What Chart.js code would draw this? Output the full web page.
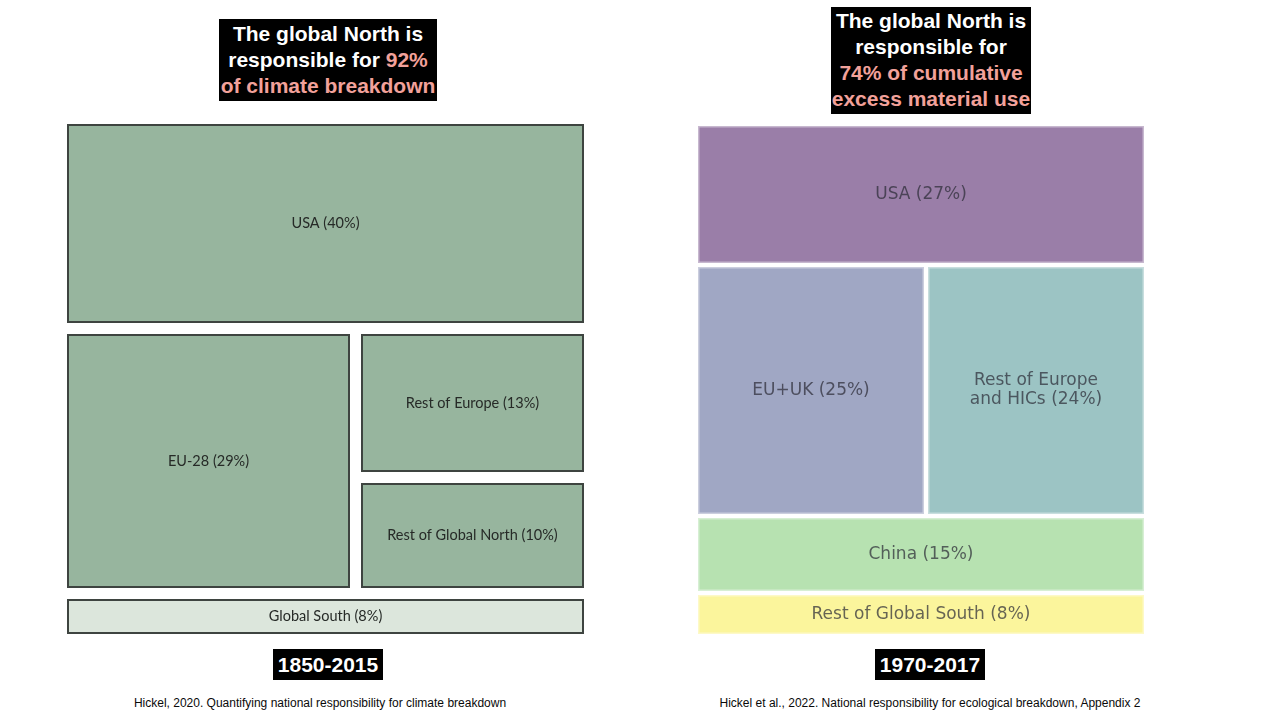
<!DOCTYPE html>
<html>
<head>
<meta charset="utf-8">
<script src="https://cdn.jsdelivr.net/npm/chart.js@4/dist/chart.umd.min.js"></script>
<style>
  html, body { margin: 0; padding: 0; background: #ffffff; }
  body { width: 1280px; height: 720px; position: relative; overflow: hidden; font-family: "Liberation Sans", Arial, sans-serif; }
  .box { position: absolute; background: #000; color: #fff; font-weight: bold; font-size: 21px; line-height: 26px; text-align: center; box-sizing: border-box; }
  .pink { color: #f2a19a; }
  .cap { position: absolute; font-size: 12px; color: #0a0a0a; text-align: center; white-space: nowrap; }
  .chartwrap { position: absolute; }
</style>
</head>
<body>
<div class="box" style="left:219px; top:19px; width:218px; height:82px; padding-top:2px;">The global North is<br>responsible for <span class="pink">92%</span><br><span class="pink">of climate breakdown</span></div>
<div class="box" style="left:831px; top:7px; width:200px; height:107px; padding-top:1px;">The global North is<br>responsible for<br><span class="pink">74% of cumulative</span><br><span class="pink">excess material use</span></div>

<div class="chartwrap" style="left:64px; top:121px; width:523px; height:516px;"><canvas id="left"></canvas></div>
<div class="chartwrap" style="left:695px; top:123px; width:452px; height:514px;"><canvas id="right"></canvas></div>

<div class="box" style="left:273px; top:649px; width:110px; height:31px; line-height:31px;">1850-2015</div>
<div class="box" style="left:875px; top:649px; width:110px; height:31px; line-height:31px;">1970-2017</div>
<div class="cap" style="left:20px; width:600px; top:696px;">Hickel, 2020. Quantifying national responsibility for climate breakdown</div>
<div class="cap" style="left:630px; width:600px; top:696px;">Hickel et al., 2022. National responsibility for ecological breakdown, Appendix 2</div>

<script>
// ---- Data (1850-2015, climate breakdown shares) ----
const leftLabels = ['USA (40%)', 'EU-28 (29%)', 'Rest of Europe (13%)', 'Rest of Global North (10%)', 'Global South (8%)'];
const leftValues = [40, 29, 13, 10, 8];
// nesting of the treemap (indices into the arrays above); rows first, then columns, alternating
const leftTree = [0, [1, [2, 3]], 4];
const leftColors = ['#97b59e', '#97b59e', '#97b59e', '#97b59e', '#dce6dc'];

// ---- Data (1970-2017, excess material use shares) ----
const rightLabels = ['USA (27%)', 'EU+UK (25%)', 'Rest of Europe\nand HICs (24%)', 'China (15%)', 'Rest of Global South (8%)'];
const rightValues = [27, 25, 24, 15, 8];
const rightTree = [0, [1, 2], 3, 4];
const rightColors = ['#9a7ea8', '#a0a7c4', '#9cc4c4', '#b7e2b1', '#fbf59c'];

function leafSum(node, values) {
  if (typeof node === 'number') return values[node];
  return node.reduce((s, n) => s + leafSum(n, values), 0);
}
// slice-and-dice layout in data units (0..1 on both axes)
function layout(node, values, x0, y0, x1, y1, dir, out) {
  if (typeof node === 'number') { out.push({ i: node, x0, y0, x1, y1 }); return; }
  const total = leafSum(node, values);
  let pos = dir === 'v' ? y0 : x0;
  node.forEach(child => {
    const frac = leafSum(child, values) / total;
    if (dir === 'v') {
      const len = (y1 - y0) * frac;
      layout(child, values, x0, pos, x1, pos + len, 'h', out);
      pos += len;
    } else {
      const len = (x1 - x0) * frac;
      layout(child, values, pos, y0, pos + len, y1, 'v', out);
      pos += len;
    }
  });
}

const treemapPlugin = {
  id: 'treemap',
  afterDatasetsDraw(chart, args, o) {
    const { ctx } = chart;
    const xs = chart.scales.x, ys = chart.scales.y;
    const rects = [];
    layout(o.tree, o.values, 0, 0, 1, 1, 'v', rects);
    const g = o.gap / 2;
    const eps = 1e-9;
    ctx.save();
    rects.forEach(r => {
      let px0 = xs.getPixelForValue(r.x0), px1 = xs.getPixelForValue(r.x1);
      let py0 = ys.getPixelForValue(r.y0), py1 = ys.getPixelForValue(r.y1);
      if (r.x0 > eps) px0 += g;
      if (r.x1 < 1 - eps) px1 -= g;
      if (r.y0 > eps) py0 += g;
      if (r.y1 < 1 - eps) py1 -= g;
      px0 = Math.round(px0); px1 = Math.round(px1); py0 = Math.round(py0); py1 = Math.round(py1);
      ctx.fillStyle = o.colors[r.i];
      ctx.fillRect(px0, py0, px1 - px0, py1 - py0);
      ctx.lineWidth = o.borderWidth;
      ctx.strokeStyle = o.borderColor;
      const bw = o.borderWidth / 2;
      ctx.strokeRect(px0 + bw, py0 + bw, px1 - px0 - o.borderWidth, py1 - py0 - o.borderWidth);
      // label
      ctx.fillStyle = o.textColor;
      ctx.font = o.font;
      ctx.textAlign = 'center';
      ctx.textBaseline = 'middle';
      const lines = o.labels[r.i].split('\n');
      const cx = (px0 + px1) / 2, cy = (py0 + py1) / 2;
      const start = cy - (lines.length - 1) * o.lineHeight / 2;
      lines.forEach((ln, k) => ctx.fillText(ln, cx, start + k * o.lineHeight));
    });
    ctx.restore();
  }
};

function makeChart(id, labels, values, tree, colors, style) {
  return new Chart(document.getElementById(id), {
    type: 'scatter',
    data: { datasets: [{ data: [] }] },
    options: {
      responsive: true,
      maintainAspectRatio: false,
      animation: false,
      events: [],
      layout: { padding: 3 },
      scales: {
        x: { type: 'linear', min: 0, max: 1, display: false },
        y: { type: 'linear', min: 0, max: 1, reverse: true, display: false }
      },
      plugins: {
        legend: { display: false },
        tooltip: { enabled: false },
        treemap: Object.assign({ labels, values, tree, colors }, style)
      }
    },
    plugins: [treemapPlugin]
  });
}

makeChart('left', leftLabels, leftValues, leftTree, leftColors, {
  gap: 11, borderWidth: 2, borderColor: '#3e4440', textColor: '#262a27',
  font: '14.5px Lato, "Open Sans", sans-serif', lineHeight: 18
});
makeChart('right', rightLabels, rightValues, rightTree, rightColors, {
  gap: 4, borderWidth: 1.5, borderColor: 'rgba(255,255,255,0.45)', textColor: 'rgba(45,45,55,0.72)',
  font: '17px "DejaVu Sans", sans-serif', lineHeight: 19
});
</script>
</body>
</html>
